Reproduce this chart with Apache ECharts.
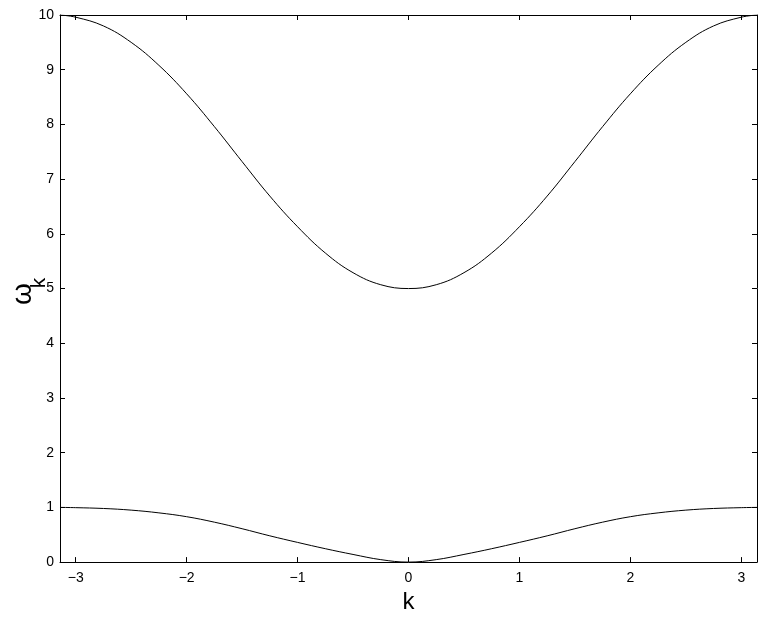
<!DOCTYPE html>
<html>
<head>
<meta charset="utf-8">
<script src="https://cdn.jsdelivr.net/npm/echarts@6/dist/echarts.min.js"></script>
<style>
  html, body { margin: 0; padding: 0; background: #fff; }
  #chart { width: 763px; height: 619px; }
</style>
</head>
<body>
<div id="chart"></div>
<script>
// wave number samples
const kValues = [-3.1416, -3, -2.75, -2.5, -2.25, -2, -1.75, -1.5, -1.25, -1, -0.75, -0.5, -0.25, 0,
  0.25, 0.5, 0.75, 1, 1.25, 1.5, 1.75, 2, 2.25, 2.5, 2.75, 3, 3.1416]
// upper branch
const upperBranch = [10.0, 9.96, 9.8, 9.5, 9.08, 8.56, 7.96, 7.32, 6.69, 6.13, 5.65, 5.29, 5.07, 5.0,
  5.07, 5.29, 5.65, 6.13, 6.69, 7.32, 7.96, 8.56, 9.08, 9.5, 9.8, 9.96, 10.0]
// lower branch
const lowerBranch = [1.0, 0.995, 0.98, 0.95, 0.9, 0.83, 0.73, 0.61, 0.48, 0.36, 0.245, 0.14, 0.045, 0,
  0.045, 0.14, 0.245, 0.36, 0.48, 0.61, 0.73, 0.83, 0.9, 0.95, 0.98, 0.995, 1.0]
const xTicks = [-3, -2, -1, 0, 1, 2, 3]

const font = 'Liberation Sans, Arial, Helvetica, sans-serif'
const chart = echarts.init(document.getElementById('chart'))

const pairs = vals => kValues.map((k, i) => [k, vals[i]])
const minus = v => String(v).replace('-', '\u2212')

const lineAxis = {
  show: true,
  onZero: false,
  lineStyle: { color: '#000', width: 1 }
}

const option = {
  animation: false,
  backgroundColor: '#fff',
  grid: {
    left: 60,
    right: 6,
    top: 15,
    bottom: 54,
    containLabel: false
  },
  xAxis: [
    {
      type: 'value',
      position: 'bottom',
      min: -Math.PI,
      max: Math.PI,
      axisLine: lineAxis,
      axisTick: {
        show: true,
        inside: true,
        length: 5,
        customValues: xTicks,
        lineStyle: { color: '#000' }
      },
      axisLabel: {
        customValues: xTicks,
        color: '#000',
        fontFamily: font,
        fontSize: 14,
        margin: 9,
        formatter: minus
      },
      splitLine: { show: false },
      name: 'k',
      nameLocation: 'middle',
      nameGap: 24,
      nameTextStyle: { color: '#000', fontFamily: font, fontSize: 24 }
    },
    {
      type: 'value',
      position: 'top',
      min: -Math.PI,
      max: Math.PI,
      axisLine: lineAxis,
      axisTick: {
        show: true,
        inside: true,
        length: 5,
        customValues: xTicks,
        lineStyle: { color: '#000' }
      },
      axisLabel: { show: false },
      splitLine: { show: false }
    }
  ],
  yAxis: [
    {
      type: 'value',
      position: 'left',
      min: 0,
      max: 10,
      interval: 1,
      axisLine: lineAxis,
      axisTick: { show: true, inside: true, length: 5, lineStyle: { color: '#000' } },
      axisLabel: { color: '#000', fontFamily: font, fontSize: 14, margin: 6 },
      splitLine: { show: false }
    },
    {
      type: 'value',
      position: 'right',
      min: 0,
      max: 10,
      interval: 1,
      axisLine: lineAxis,
      axisTick: { show: true, inside: true, length: 5, lineStyle: { color: '#000' } },
      axisLabel: { show: false },
      splitLine: { show: false }
    }
  ],
  graphic: [
    {
      type: 'text',
      x: 23,
      y: 294,
      rotation: Math.PI / 2,
      style: {
        text: '\u03c9',
        fill: '#000',
        font: '28px ' + font,
        textAlign: 'center',
        textVerticalAlign: 'middle'
      }
    },
    {
      type: 'text',
      x: 39,
      y: 283,
      rotation: Math.PI / 2,
      style: {
        text: 'k',
        fill: '#000',
        font: '21px ' + font,
        textAlign: 'center',
        textVerticalAlign: 'middle'
      }
    }
  ],
  series: [
    {
      type: 'line',
      data: pairs(upperBranch),
      showSymbol: false,
      smooth: 0.4,
      lineStyle: { color: '#000', width: 1 }
    },
    {
      type: 'line',
      data: pairs(lowerBranch),
      showSymbol: false,
      smooth: 0.4,
      lineStyle: { color: '#000', width: 1 }
    }
  ]
}
chart.setOption(option)
</script>
</body>
</html>
